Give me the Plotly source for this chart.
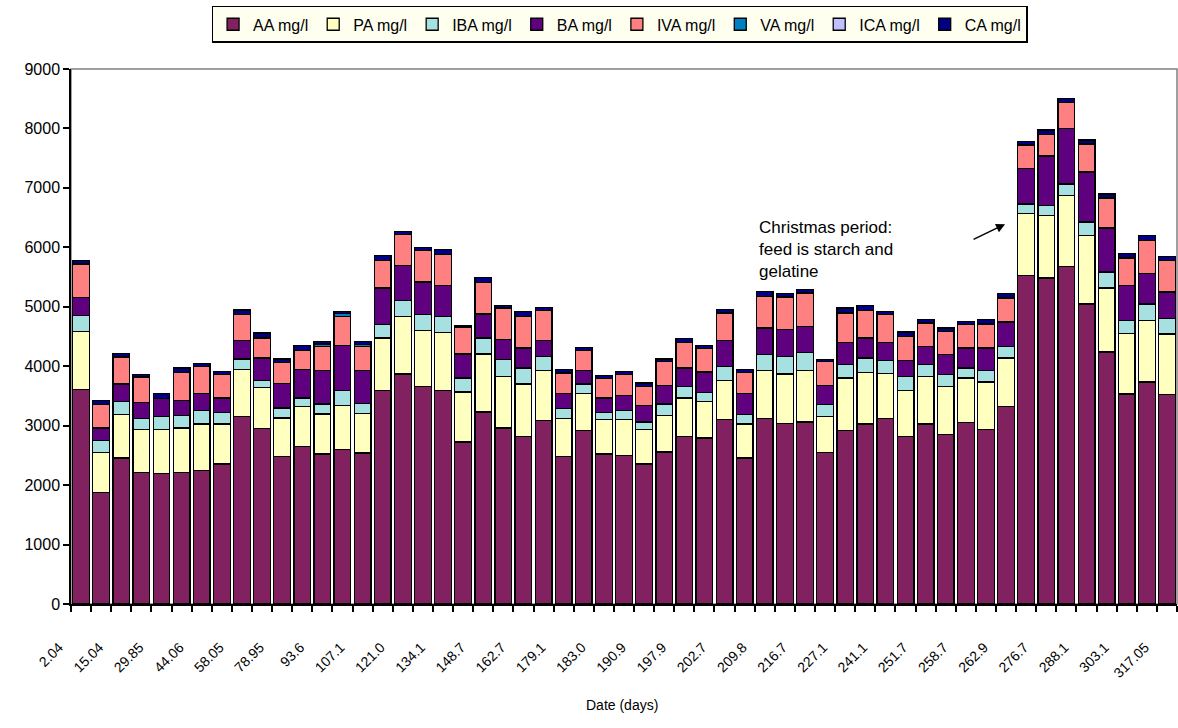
import plotly.graph_objects as go

# Volatile fatty acid concentrations (mg/l), one stacked bar per sampling date
AA = [3605, 1880, 2458, 2216, 2194, 2216, 2249, 2357, 3157, 2950, 2485, 2653, 2525, 2597,
      2540, 3594, 3870, 3661, 3594, 2727, 3231, 2962, 2821, 3090, 2485, 2922, 2525, 2496,
      2357, 2558, 2821, 2794, 3101, 2458, 3118, 3034, 3063, 2552, 2922, 3029, 3118, 2821,
      3029, 2849, 3056, 2933, 3325, 5522, 5483, 5678, 5046, 4239, 3533, 3735, 3522]
PA = [975, 673, 727, 717, 739, 746, 780, 672, 785, 694, 645, 672, 672, 740,
      660, 881, 968, 942, 975, 840, 975, 867, 880, 840, 633, 616, 576, 605,
      576, 611, 645, 615, 661, 571, 812, 836, 867, 605, 880, 868, 757, 773,
      800, 812, 746, 802, 813, 1042, 1048, 1189, 1149, 1076, 1014, 1036, 1020]
IBA = [269, 201, 224, 185, 224, 207, 224, 195, 180, 118, 168, 141, 168, 257,
       170, 223, 264, 263, 269, 235, 269, 281, 270, 236, 168, 163, 123, 157,
       130, 196, 195, 151, 235, 156, 264, 296, 303, 197, 224, 241, 223, 235,
       197, 197, 169, 190, 196, 163, 168, 197, 230, 269, 224, 275, 257]
BA = [310, 209, 292, 274, 297, 257, 285, 242, 313, 376, 409, 476, 565, 751,
      560, 617, 588, 550, 516, 404, 403, 336, 336, 269, 252, 229, 242, 247,
      274, 308, 310, 343, 438, 353, 449, 448, 437, 319, 375, 337, 303, 269,
      308, 336, 336, 382, 410, 605, 840, 941, 840, 740, 583, 510, 449]
IVA = [560, 392, 454, 427, 0, 471, 459, 392, 431, 337, 358, 319, 404, 493,
       400, 464, 521, 526, 521, 454, 531, 533, 531, 499, 348, 331, 325, 353,
       324, 408, 430, 392, 460, 359, 531, 550, 561, 408, 494, 464, 465, 404,
       393, 392, 391, 403, 403, 392, 365, 437, 471, 504, 466, 559, 531]
VA = [0, 0, 0, 0, 0, 0, 0, 0, 0, 0, 0, 0, 40, 45,
      40, 0, 0, 0, 0, 0, 0, 0, 0, 0, 0, 0, 0, 0,
      0, 0, 0, 0, 0, 0, 0, 0, 0, 0, 0, 0, 0, 0,
      0, 0, 0, 0, 0, 0, 0, 0, 0, 0, 0, 0, 0]
ICA = [0] * 55
CA = [55, 70, 56, 40, 84, 74, 46, 55, 80, 84, 57, 84, 44, 39,
      44, 79, 56, 56, 84, 30, 85, 44, 84, 55, 56, 56, 55, 55,
      57, 41, 62, 55, 55, 45, 84, 55, 56, 30, 84, 79, 56, 74,
      55, 57, 56, 72, 72, 56, 72, 67, 72, 67, 72, 80, 67]

# Day labels shown under every second bar
tick_labels = ["2.04", "15.04", "29.85", "44.06", "58.05", "78.95", "93.6", "107.1",
               "121.0", "134.1", "148.7", "162.7", "179.1", "183.0", "190.9", "197.9",
               "202.7", "209.8", "216.7", "227.1", "241.1", "251.7", "258.7", "262.9",
               "276.7", "288.1", "303.1", "317.05"]

series = [
    ("AA mg/l", AA, "#822160"),
    ("PA mg/l", PA, "#FFFFC0"),
    ("IBA mg/l", IBA, "#A6E0E0"),
    ("BA mg/l", BA, "#5F007F"),
    ("IVA mg/l", IVA, "#FF8080"),
    ("VA mg/l", VA, "#0080C0"),
    ("ICA mg/l", ICA, "#C0C0FF"),
    ("CA mg/l", CA, "#000080"),
]

x = list(range(len(AA)))

fig = go.Figure()
for name, vals, color in series:
    fig.add_trace(go.Bar(
        x=x, y=vals, name=name,
        marker=dict(color=color, line=dict(color="black", width=1.3)),
    ))

fig.update_layout(
    width=1178, height=728,
    margin=dict(l=71, r=1, t=69, b=124),
    barmode="stack", bargap=0.17,
    paper_bgcolor="white", plot_bgcolor="white",
    font=dict(family="Liberation Sans, Arial, sans-serif", color="black"),
    legend=dict(
        orientation="h", x=0.496, xanchor="center", y=1.118, yanchor="top",
        bgcolor="#FFFFF0", bordercolor="black", borderwidth=1.5,
        font=dict(size=16), traceorder="normal",
        itemwidth=30, tracegroupgap=0,
    ),
    showlegend=True,
)

fig.update_xaxes(
    range=[-0.5, len(AA) - 0.5],
    tickmode="array", tickvals=list(range(0, len(AA), 2)), ticktext=tick_labels,
    tickangle=-45, ticks="", tickfont=dict(size=14, color="black"),
    ticklabelshift=-22, ticklabelstandoff=28,
    minor=dict(tickmode="array", tickvals=[i - 0.5 for i in range(len(AA) + 1)],
               ticks="outside", ticklen=6, tickwidth=1.5, tickcolor="black"),
    showline=True, linecolor="black", linewidth=1.5,
    showgrid=False, zeroline=False,
)
fig.update_yaxes(
    range=[0, 9000], dtick=1000, tick0=0,
    ticks="outside", ticklen=6, tickwidth=1.5, tickcolor="black",
    tickfont=dict(size=16, color="black"),
    showline=True, linecolor="black", linewidth=1.5,
    showgrid=False, zeroline=False,
)

# Plot-area frame
fig.add_shape(type="rect", xref="paper", yref="paper", x0=0, x1=1, y0=0, y1=1,
              line=dict(color="#808080", width=1.5), layer="below")

fig.add_annotation(
    text="Date (days)", xref="paper", yref="paper", x=0.498, y=-0.1895,
    showarrow=False, font=dict(size=14), xanchor="center", yanchor="middle",
)
fig.add_annotation(
    text="Christmas period:<br>feed is starch and<br>gelatine",
    xref="x", yref="y", x=33.6, y=6520, xanchor="left", yanchor="top",
    align="left", showarrow=False, font=dict(size=17),
)
fig.add_annotation(
    text="", xref="x", yref="y", x=45.95, y=6390,
    ax=-33, ay=16, showarrow=True, arrowhead=2, arrowsize=1.2,
    arrowwidth=1.5, arrowcolor="black",
)

fig.write_html("out.html")
